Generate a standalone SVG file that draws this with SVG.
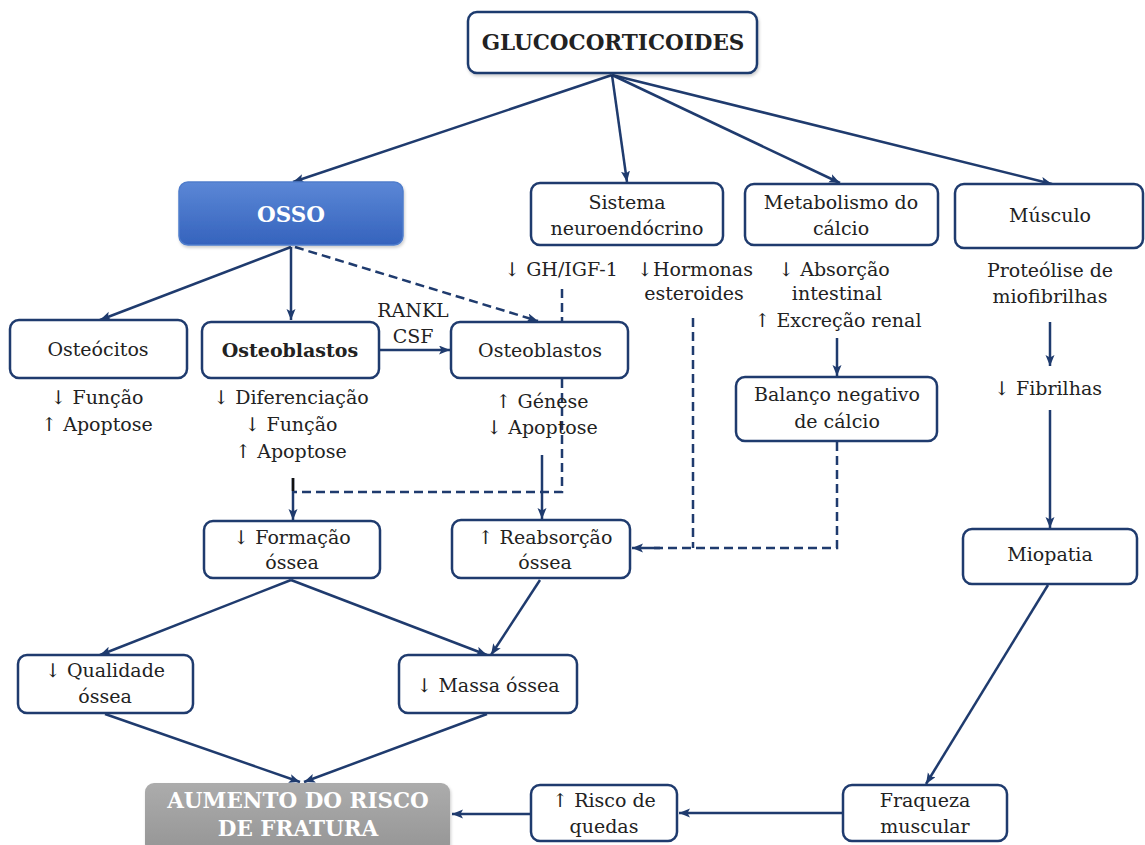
<svg xmlns="http://www.w3.org/2000/svg" width="1145" height="845" viewBox="0 0 1145 845">
<defs>
<linearGradient id="gBlue" x1="0" y1="0" x2="0" y2="1">
<stop offset="0" stop-color="#5b87d6"/>
<stop offset="1" stop-color="#3563bd"/>
</linearGradient>
<linearGradient id="gGray" x1="0" y1="0" x2="0" y2="1">
<stop offset="0" stop-color="#acacac"/>
<stop offset="1" stop-color="#959595"/>
</linearGradient>
<marker id="ah" markerUnits="userSpaceOnUse" markerWidth="12" markerHeight="10" refX="11" refY="4.5" orient="auto">
<path d="M0,0 L11,4.5 L0,9 L2.5,4.5 z" fill="#1f3b6e"/>
</marker>
<filter id="sh" x="-10%" y="-10%" width="120%" height="130%">
<feDropShadow dx="1" dy="2" stdDeviation="1.5" flood-color="#000" flood-opacity="0.2"/>
</filter>
</defs>
<style>
.box{fill:#fff;stroke:#1f3b6e;stroke-width:2.5}
.t{font-family:"DejaVu Serif","Liberation Serif",serif;font-size:19px;fill:#222;text-anchor:middle}
.b{font-weight:bold}
.w{fill:#fff}
.big{font-size:21.5px}
.c{fill:none;stroke:#1f3b6e;stroke-width:2.5}
.d{fill:none;stroke:#1f3b6e;stroke-width:2.5;stroke-dasharray:9 5}
</style>
<rect width="1145" height="845" fill="#fff"/>

<g id="connectors">
<line class="c" x1="612" y1="75" x2="293" y2="182" marker-end="url(#ah)"/>
<line class="c" x1="612" y1="75" x2="627" y2="182" marker-end="url(#ah)"/>
<line class="c" x1="612" y1="75" x2="840" y2="183" marker-end="url(#ah)"/>
<line class="c" x1="612" y1="75" x2="1052" y2="184" marker-end="url(#ah)"/>
<line class="c" x1="291" y1="247" x2="100" y2="320" marker-end="url(#ah)"/>
<line class="c" x1="291" y1="247" x2="291" y2="320" marker-end="url(#ah)"/>
<line class="d" x1="295" y1="247" x2="538" y2="321" marker-end="url(#ah)"/>
<line class="c" x1="380" y1="350" x2="450" y2="350" marker-end="url(#ah)"/>
<line class="d" x1="562" y1="289" x2="562" y2="321"/>
<polyline class="d" points="562,379 562,492 294,492"/>
<line class="c" x1="293" y1="478" x2="293" y2="520" marker-end="url(#ah)"/>
<line x1="293" y1="478" x2="293" y2="491" stroke="#111" stroke-width="2.5"/>
<line class="c" x1="542" y1="455" x2="542" y2="519" marker-end="url(#ah)"/>
<line class="d" x1="693" y1="318" x2="693" y2="548"/>
<polyline class="d" points="837,442 837,548 650,548"/>
<line class="c" x1="660" y1="548" x2="632" y2="548" marker-end="url(#ah)"/>
<line class="c" x1="837" y1="338" x2="837" y2="376" marker-end="url(#ah)"/>
<line class="c" x1="1050" y1="322" x2="1050" y2="366" marker-end="url(#ah)"/>
<line class="c" x1="1050" y1="410" x2="1050" y2="528" marker-end="url(#ah)"/>
<line class="c" x1="291" y1="580" x2="100" y2="655" marker-end="url(#ah)"/>
<line class="c" x1="291" y1="580" x2="487" y2="655" marker-end="url(#ah)"/>
<line class="c" x1="540" y1="580" x2="491" y2="655" marker-end="url(#ah)"/>
<line class="c" x1="105" y1="714" x2="300" y2="782" marker-end="url(#ah)"/>
<line class="c" x1="487" y1="714" x2="304" y2="782" marker-end="url(#ah)"/>
<line class="c" x1="1048" y1="585" x2="926" y2="784" marker-end="url(#ah)"/>
<line class="c" x1="843" y1="813" x2="679" y2="813" marker-end="url(#ah)"/>
<line class="c" x1="531" y1="814" x2="452" y2="814" marker-end="url(#ah)"/>
</g>

<g id="glucocorticoides">
<rect class="box" x="468" y="12" width="289" height="61" rx="9" filter="url(#sh)"/>
<text class="t b big" x="613" y="50">GLUCOCORTICOIDES</text>
</g>
<g id="osso">
<rect x="179" y="182" width="224" height="63" rx="9" fill="url(#gBlue)" stroke="#4f7dcc" stroke-width="1.5" filter="url(#sh)"/>
<text class="t b w big" x="291" y="222">OSSO</text>
</g>
<g id="sistema">
<rect class="box" x="531" y="183" width="192" height="62" rx="9"/>
<text class="t" x="627" y="209">Sistema</text>
<text class="t" x="627" y="235">neuroendócrino</text>
</g>
<g id="metabolismo">
<rect class="box" x="745" y="184" width="193" height="61" rx="9"/>
<text class="t" x="841" y="209">Metabolismo do</text>
<text class="t" x="841" y="235">cálcio</text>
</g>
<g id="musculo">
<rect class="box" x="955" y="184" width="188" height="64" rx="9"/>
<text class="t" x="1050" y="222">Músculo</text>
</g>
<g id="labels-top">
<text class="t" x="561" y="276">↓ GH/IGF-1</text>
<text class="t" x="695" y="276">↓Hormonas</text>
<text class="t" x="694" y="300">esteroides</text>
<text class="t" x="834" y="276">↓ Absorção</text>
<text class="t" x="837" y="300">intestinal</text>
<text class="t" x="838" y="327">↑ Excreção renal</text>
<text class="t" x="1050" y="277">Proteólise de</text>
<text class="t" x="1050" y="303">miofibrilhas</text>
</g>
<g id="osteocitos">
<rect class="box" x="10" y="320" width="177" height="58" rx="9"/>
<text class="t" x="98" y="356">Osteócitos</text>
<text class="t" x="97" y="404">↓ Função</text>
<text class="t" x="97" y="431">↑ Apoptose</text>
</g>
<g id="osteoblastos-bold">
<rect class="box" x="202" y="322" width="177" height="56" rx="9"/>
<text class="t b" x="290" y="357">Osteoblastos</text>
<text class="t" x="291" y="404">↓ Diferenciação</text>
<text class="t" x="291" y="431">↓ Função</text>
<text class="t" x="291" y="458">↑ Apoptose</text>
</g>
<g id="rankl">
<text class="t" x="413" y="317">RANKL</text>
<text class="t" x="413" y="343">CSF</text>
</g>
<g id="osteoblastos">
<rect class="box" x="451" y="322" width="177" height="56" rx="9"/>
<text class="t" x="540" y="357">Osteoblastos</text>
<text class="t" x="542" y="408">↑ Génese</text>
<text class="t" x="542" y="434">↓ Apoptose</text>
</g>
<g id="balanco">
<rect class="box" x="736" y="377" width="201" height="64" rx="9"/>
<text class="t" x="837" y="401">Balanço negativo</text>
<text class="t" x="837" y="428">de cálcio</text>
</g>
<g id="fibrilhas">
<text class="t" x="1048" y="395">↓ Fibrilhas</text>
</g>
<g id="miopatia">
<rect class="box" x="963" y="529" width="174" height="55" rx="9"/>
<text class="t" x="1050" y="561">Miopatia</text>
</g>
<g id="formacao">
<rect class="box" x="204" y="521" width="176" height="57" rx="9"/>
<text class="t" x="292" y="544">↓ Formação</text>
<text class="t" x="292" y="569">óssea</text>
</g>
<g id="reabsorcao">
<rect class="box" x="452" y="520" width="178" height="58" rx="9"/>
<text class="t" x="545" y="544">↑ Reabsorção</text>
<text class="t" x="545" y="569">óssea</text>
</g>
<g id="qualidade">
<rect class="box" x="18" y="655" width="175" height="58" rx="9"/>
<text class="t" x="105" y="677">↓ Qualidade</text>
<text class="t" x="105" y="703">óssea</text>
</g>
<g id="massa">
<rect class="box" x="399" y="655" width="178" height="58" rx="9"/>
<text class="t" x="488" y="692">↓ Massa óssea</text>
</g>
<g id="aumento">
<rect x="145" y="783" width="305" height="70" rx="9" fill="url(#gGray)" filter="url(#sh)"/>
<text class="t b w big" x="298" y="808">AUMENTO DO RISCO</text>
<text class="t b w big" x="298" y="836">DE FRATURA</text>
</g>
<g id="risco">
<rect class="box" x="531" y="785" width="146" height="56" rx="9"/>
<text class="t" x="604" y="807">↑ Risco de</text>
<text class="t" x="604" y="833">quedas</text>
</g>
<g id="fraqueza">
<rect class="box" x="843" y="785" width="164" height="56" rx="9"/>
<text class="t" x="925" y="807">Fraqueza</text>
<text class="t" x="925" y="833">muscular</text>
</g>
</svg>
